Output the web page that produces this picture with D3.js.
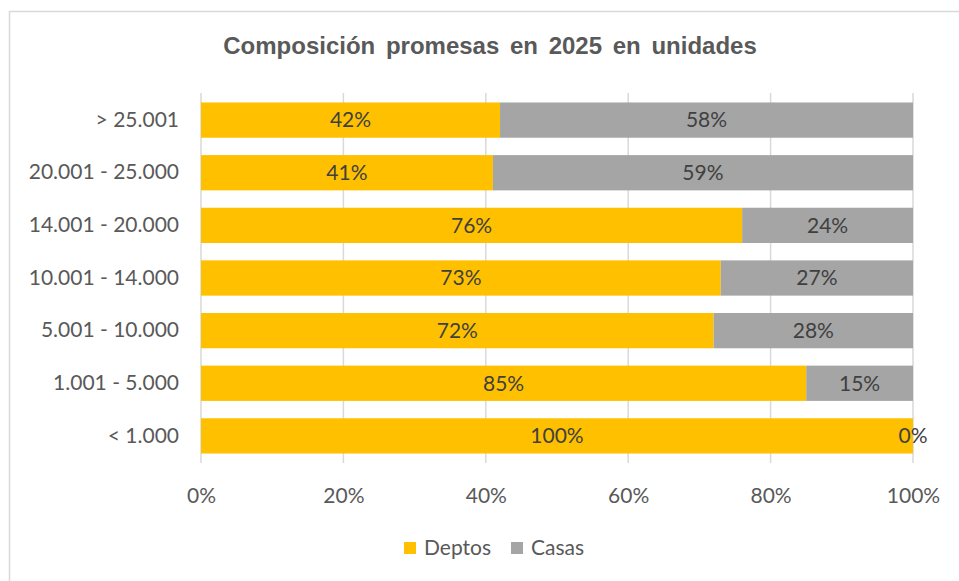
<!DOCTYPE html>
<html>
<head>
<meta charset="utf-8">
<script src="https://cdn.jsdelivr.net/npm/d3@7"></script>
<style>
  body { margin: 0; background: #fff; }
  svg { display: block; }
</style>
</head>
<body>
<div id="chart"></div>
<script>
const categories = ["> 25.001", "20.001 - 25.000", "14.001 - 20.000", "10.001 - 14.000", "5.001 - 10.000", "1.001 - 5.000", "< 1.000"];
const deptos = [42, 41, 76, 73, 72, 85, 100];
const casas = [58, 59, 24, 27, 28, 15, 0];
const seriesNames = ["Deptos", "Casas"];
const colors = ["#FFC000", "#A5A5A5"];
const xTicks = [0, 20, 40, 60, 80, 100];

const width = 959;
const height = 581;
const margin = { top: 93, right: 46, bottom: 118, left: 201 };
const labelFont = "21px Lato, 'Open Sans', sans-serif";

const svg = d3.select("#chart")
  .append("svg")
  .attr("width", width)
  .attr("height", height);

// outer frame
svg.append("rect")
  .attr("x", 9.5)
  .attr("y", 11.5)
  .attr("width", 980)
  .attr("height", 600)
  .attr("fill", "#fff")
  .attr("stroke", "#d9d9d9")
  .attr("stroke-width", 1.5);

svg.append("text")
  .attr("x", 490)
  .attr("y", 54)
  .attr("text-anchor", "middle")
  .style("font", "bold 24px 'Liberation Sans', Arial, sans-serif")
  .attr("fill", "#595959")
  .attr("word-spacing", "4px")
  .text("Composición promesas en 2025 en unidades");

const x = d3.scaleLinear()
  .domain([0, 100])
  .range([margin.left, width - margin.right]);

const y = d3.scaleBand()
  .domain(categories)
  .range([margin.top, height - margin.bottom])
  .paddingInner(0.33)
  .paddingOuter(0.18);

// gridlines
svg.append("g")
  .selectAll("line")
  .data(xTicks)
  .join("line")
  .attr("x1", (d) => x(d))
  .attr("x2", (d) => x(d))
  .attr("y1", margin.top)
  .attr("y2", height - margin.bottom)
  .attr("stroke", "#d9d9d9")
  .attr("stroke-width", 1.5);

const rows = categories.map((c, i) => ({ cat: c, Deptos: deptos[i], Casas: casas[i] }));
const stacked = d3.stack().keys(seriesNames)(rows);

const gSeries = svg.append("g")
  .selectAll("g")
  .data(stacked)
  .join("g")
  .attr("fill", (d, i) => colors[i]);

gSeries.selectAll("rect")
  .data((d) => d)
  .join("rect")
  .attr("x", (d) => x(d[0]))
  .attr("y", (d) => y(d.data.cat))
  .attr("width", (d) => x(d[1]) - x(d[0]))
  .attr("height", y.bandwidth());

// data labels
stacked.forEach((s) => {
  svg.append("g")
    .selectAll("text")
    .data(s)
    .join("text")
    .attr("x", (d) => (x(d[0]) + x(d[1])) / 2)
    .attr("y", (d) => y(d.data.cat) + y.bandwidth() / 2)
    .attr("dy", "0.35em")
    .attr("text-anchor", "middle")
    .style("font", labelFont)
    .attr("fill", "#404040")
    .text((d) => (d[1] - d[0]) + "%");
});

// category axis
const yAxis = svg.append("g")
  .attr("transform", `translate(${margin.left},0)`)
  .call(d3.axisLeft(y).tickSize(0).tickPadding(22));
yAxis.select(".domain").remove();
yAxis.selectAll("text")
  .style("font", labelFont)
  .attr("fill", "#595959");

// value axis
const xAxis = svg.append("g")
  .attr("transform", `translate(0,${height - margin.bottom})`)
  .call(d3.axisBottom(x).tickValues(xTicks).tickSize(0).tickPadding(25).tickFormat((d) => d + "%"));
xAxis.select(".domain").remove();
xAxis.selectAll("text")
  .style("font", labelFont)
  .attr("fill", "#595959");

// legend
const legend = svg.append("g");
const legendX = [404, 511];
seriesNames.forEach((name, i) => {
  legend.append("rect")
    .attr("x", legendX[i])
    .attr("y", 542)
    .attr("width", 12)
    .attr("height", 12)
    .attr("fill", colors[i]);
  legend.append("text")
    .attr("x", legendX[i] + 20)
    .attr("y", 548)
    .attr("dy", "0.35em")
    .style("font", labelFont)
    .attr("fill", "#595959")
    .text(name);
});
</script>
</body>
</html>
